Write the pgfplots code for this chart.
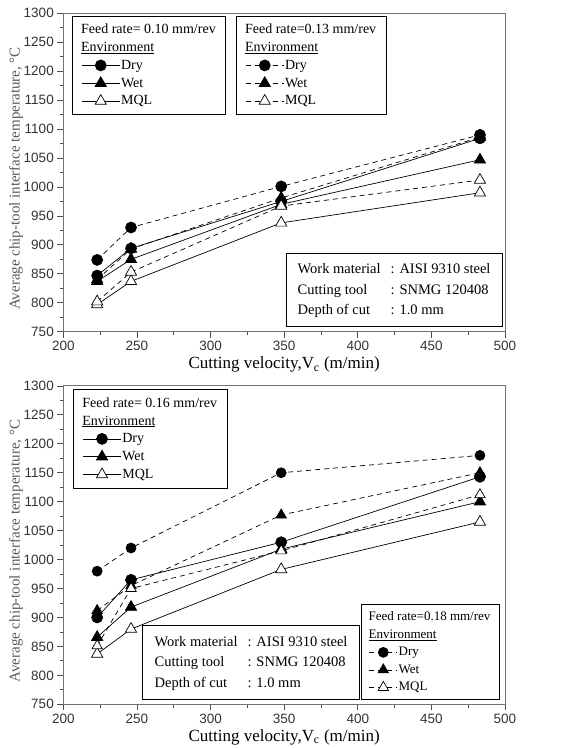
\documentclass[border=0pt]{standalone}
\usepackage{fontspec}
\setmainfont{Liberation Serif}
\newfontfamily\arialfont{Liberation Sans}
\usepackage{pgfplots}
\pgfplotsset{compat=1.18}

\pgfplotsset{
  panel/.style={
    scale only axis, width=441.7pt, height=318.4pt,
    xmin=200, xmax=500, ymin=750, ymax=1300,
    xtick={200,250,...,500}, ytick={750,800,...,1300},
    minor x tick num=1, minor y tick num=1,
    tick align=outside, xtick pos=lower, ytick pos=left,
    major tick length=6pt, minor tick length=3.5pt,
    axis line style={black!55, line width=0.9pt},
    tick style={black!70, line width=0.8pt},
    tick label style={font=\arialfont\fontsize{13.5}{15}\selectfont, text=black!80},
    /pgf/number format/assume math mode=true,
    /pgf/number format/1000 sep={},
    xlabel={Cutting velocity,V\textsubscript{c} (m/min)},
    ylabel={Average chip-tool interface temperature, °C},
    xlabel style={font=\fontsize{17}{19}\selectfont, yshift=1pt},
    ylabel style={font=\fontsize{15}{17}\selectfont, text=black!65, yshift=-6pt, xshift=-6pt},
  },
  envlegend/.style={
    legend cell align=left,
    legend style={draw=black, line width=0.8pt, fill=white, anchor=north west,
      font=\fontsize{14}{16}\selectfont, inner xsep=9pt, inner ysep=7pt,
      row sep=5pt, nodes={inner sep=1pt}},
    legend image code/.code={\draw[mark repeat=2,mark phase=2]
      plot coordinates {(0pt,0pt) (19pt,0pt) (38pt,0pt)};}},
  dry/.style={black, line width=0.7pt, mark=*, mark size=5.5pt, mark options={solid, fill=black}},
  wet/.style={black, line width=0.7pt, mark=triangle*, mark size=6.5pt, mark options={solid, fill=black}},
  mql/.style={black, line width=0.7pt, mark=triangle*, mark size=6.5pt, mark options={solid, fill=white}},
  dsh/.style={dash pattern=on 5pt off 4pt},
}

\newcommand{\infobox}{\begin{tabular}{@{}l@{\hspace{10pt}}l@{}}
Work material & : AISI 9310 steel\\
Cutting tool & : SNMG 120408\\
Depth of cut & : 1.0 mm
\end{tabular}}

\begin{document}
\begin{tikzpicture}
\path[use as bounding box] (0pt,0pt) rectangle (564pt,-748pt);

% ---- top panel: 0.10 (solid) and 0.13 (dashed) mm/rev
\begin{axis}[panel, at={(63.3pt,-331.7pt)}, anchor=south west, envlegend,
  legend style={at={(0.0197,0.9925)}}]
  \addlegendimage{empty legend}\addlegendentry{\hspace*{-40pt}Feed rate= 0.10 mm/rev}
  \addlegendimage{empty legend}\addlegendentry{\hspace*{-40pt}\underline{Environment}}
  \addplot[dry] coordinates {(223,847) (246,894) (348,975) (483,1084)};
  \addlegendentry{Dry}
  \addplot[wet] coordinates {(223,837) (246,875) (348,970) (483,1047)};
  \addlegendentry{Wet}
  \addplot[mql] coordinates {(223,797) (246,837) (348,938) (483,990)};
  \addlegendentry{MQL}
  \node[draw=black, line width=0.8pt, anchor=north west, minimum width=216pt,
    minimum height=73pt, inner sep=0pt, font=\fontsize{14.5}{20.5}\selectfont]
    at (rel axis cs:0.5035,0.2462) {\infobox};
\end{axis}
\begin{axis}[panel, hide axis, at={(63.3pt,-331.7pt)}, anchor=south west, envlegend,
  legend style={at={(0.391,0.9925)}}]
  \addlegendimage{empty legend}\addlegendentry{\hspace*{-40pt}Feed rate=0.13 mm/rev}
  \addlegendimage{empty legend}\addlegendentry{\hspace*{-40pt}\underline{Environment}}
  \addplot[dry, dsh] coordinates {(223,874) (246,930) (348,1001) (483,1090)};
  \addlegendentry{Dry}
  \addplot[wet, dsh] coordinates {(223,840) (246,893) (348,981) (483,1086)};
  \addlegendentry{Wet}
  \addplot[mql, dsh] coordinates {(223,802) (246,853) (348,967) (483,1012)};
  \addlegendentry{MQL}
\end{axis}

% ---- bottom panel: 0.16 (solid) and 0.18 (dashed) mm/rev
\begin{axis}[panel, at={(63.3pt,-704.3pt)}, anchor=south west, envlegend,
  legend style={at={(0.0226,0.9897)}}]
  \addlegendimage{empty legend}\addlegendentry{\hspace*{-40pt}Feed rate= 0.16 mm/rev}
  \addlegendimage{empty legend}\addlegendentry{\hspace*{-40pt}\underline{Environment}}
  \addplot[dry] coordinates {(223,900) (246,965) (348,1030) (483,1143)};
  \addlegendentry{Dry}
  \addplot[wet] coordinates {(223,866) (246,918) (348,1018) (483,1100)};
  \addlegendentry{Wet}
  \addplot[mql] coordinates {(223,837) (246,880) (348,983) (483,1065)};
  \addlegendentry{MQL}
  \node[draw=black, line width=0.8pt, anchor=north west, minimum width=216.7pt,
    minimum height=74pt, inner sep=0pt, font=\fontsize{14.5}{20.5}\selectfont]
    at (rel axis cs:0.1789,0.2489) {\infobox};
\end{axis}
\begin{axis}[panel, hide axis, at={(63.3pt,-704.3pt)}, anchor=south west, envlegend,
  legend style={at={(0.673,0.314)}, font=\fontsize{13}{15}\selectfont,
    inner xsep=8pt, inner ysep=6pt, row sep=5.5pt},
  legend image code/.code={\draw[mark repeat=2,mark phase=2]
      plot coordinates {(0pt,0pt) (14pt,0pt) (28pt,0pt)};}]
  \addlegendimage{empty legend}\addlegendentry{\hspace*{-30pt}Feed rate=0.18 mm/rev}
  \addlegendimage{empty legend}\addlegendentry{\hspace*{-30pt}\underline{Environment}}
  \addplot[dry, dsh, mark size=5pt] coordinates {(223,980) (246,1020) (348,1150) (483,1180)};
  \addlegendentry{Dry}
  \addplot[wet, dsh, mark size=6pt] coordinates {(223,912) (246,955) (348,1077) (483,1150)};
  \addlegendentry{Wet}
  \addplot[mql, dsh, mark size=6pt] coordinates {(223,851) (246,950) (348,1015) (483,1112)};
  \addlegendentry{MQL}
\end{axis}
\end{tikzpicture}
\end{document}
